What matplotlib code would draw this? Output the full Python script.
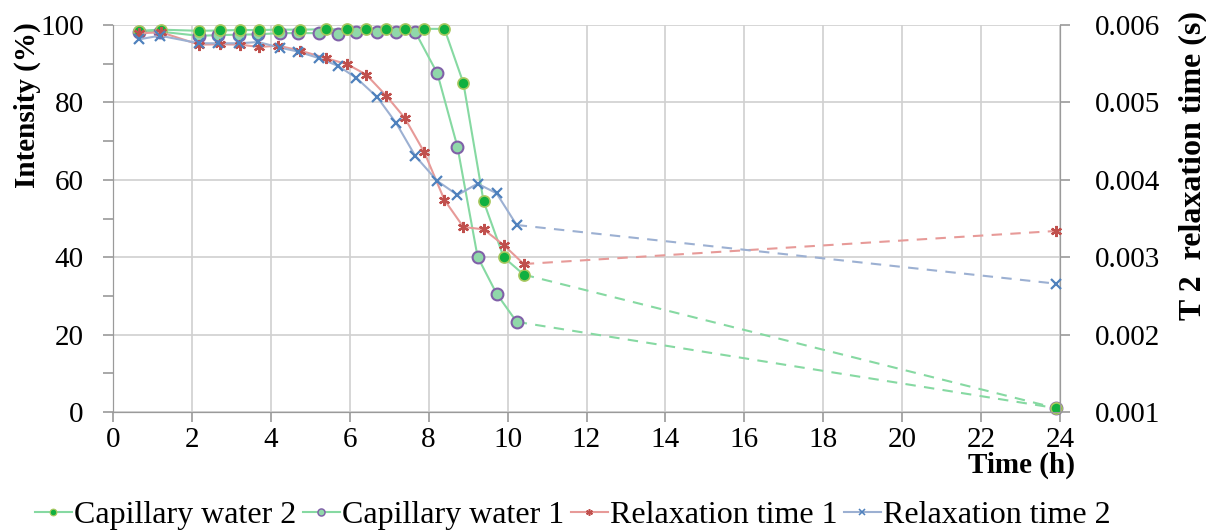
import matplotlib
matplotlib.use("Agg")
import matplotlib.pyplot as plt
from matplotlib.lines import Line2D
from matplotlib.ticker import MultipleLocator, FormatStrFormatter

plt.rcParams['font.family'] = ['Liberation Serif', 'DejaVu Serif']

# Times (h)
t_a = [0.66, 1.22, 2.18, 2.72, 3.22, 3.71, 4.19, 4.75, 5.41, 5.94, 6.42, 6.93,
       7.39, 7.89, 8.40, 8.88, 9.39, 9.90, 10.41, 23.9]
t_b = [0.66, 1.19, 2.18, 2.67, 3.20, 3.68, 4.24, 4.70, 5.23, 5.71, 6.17, 6.70,
       7.18, 7.66, 8.22, 8.73, 9.24, 9.72, 10.23, 23.9]

# Intensity (%)
cap_water_2 = [98.5, 98.8, 98.5, 98.6, 98.7, 98.7, 98.8, 98.8, 98.9, 98.9, 98.9, 99.0,
               99.0, 99.0, 99.0, 85.0, 54.5, 40.0, 35.5, 1.0]
cap_water_1 = [98.3, 98.3, 97.2, 97.4, 97.5, 97.6, 97.9, 97.9, 97.9, 97.8, 98.1, 98.1,
               98.1, 98.2, 87.5, 68.5, 40.1, 30.6, 23.3, 1.0]

# T2 relaxation time (s)
relax_1 = [0.005893, 0.005906, 0.005746, 0.005751, 0.005746, 0.005716, 0.005733, 0.005668,
           0.005570, 0.005492, 0.005358, 0.005083, 0.004802, 0.004355, 0.003739, 0.003390,
           0.003360, 0.003158, 0.002912, 0.003339]
relax_2 = [0.005815, 0.005862, 0.005764, 0.005764, 0.005764, 0.005780, 0.005707, 0.005655,
           0.005570, 0.005470, 0.005315, 0.005066, 0.004730, 0.004308, 0.003984, 0.003804,
           0.003950, 0.003826, 0.003416, 0.002658]

labels = ["Capillary water 2", "Capillary water 1", "Relaxation time 1", "Relaxation time 2"]

fig = plt.figure(figsize=(12.06, 5.32), dpi=100)
ax = fig.add_axes([113/1206, 1-412/532, (1060-113)/1206, (412-25)/532])
ax2 = ax.twinx()

green_line = '#86d9a2'
red_line = '#e79a98'
blue_line = '#9cb0d2'

styles = [
    dict(ax=ax, t=t_a, y=cap_water_2, lc=green_line, marker='o', ms=8, mfc='#10b040', mec='#a8c860', mew=1.2, z=4),
    dict(ax=ax, t=t_b, y=cap_water_1, lc=green_line, marker='o', ms=8.5, mfc='#90d8aa', mec='#8060a8', mew=1.5, z=3),
    dict(ax=ax2, t=t_a, y=relax_1, lc=red_line, marker=(6, 2, 0), ms=8, mfc='#c0504d', mec='#c0504d', mew=1.6, z=3),
    dict(ax=ax2, t=t_b, y=relax_2, lc=blue_line, marker='x', ms=7, mfc='#4f81bd', mec='#4f81bd', mew=1.6, z=3),
]

handles = []
for s in styles:
    a = s['ax']
    a.plot(s['t'][:-1], s['y'][:-1], color=s['lc'], lw=1.5, zorder=2)
    a.plot(s['t'][-2:], s['y'][-2:], color=s['lc'], lw=1.5, ls=(0, (5, 4)), zorder=2)
    a.plot(s['t'], s['y'], ls='none', marker=s['marker'], ms=s['ms'], mfc=s['mfc'],
           mec=s['mec'], mew=s['mew'], zorder=s['z'], clip_on=False)
    handles.append(Line2D([], [], color=s['lc'], lw=1.5, marker=s['marker'], ms=s['ms'] * 0.6,
                          mfc=s['mfc'], mec=s['mec'], mew=s['mew'] * 0.7))

ax.set_xlim(0, 24)
ax.set_ylim(0, 100)
ax2.set_ylim(0.001, 0.006)
ax.xaxis.set_major_locator(MultipleLocator(2))
ax.yaxis.set_major_locator(MultipleLocator(20))
ax.yaxis.set_minor_locator(MultipleLocator(10))
ax2.yaxis.set_major_locator(MultipleLocator(0.001))
ax2.yaxis.set_major_formatter(FormatStrFormatter('%.3f'))

ax.grid(True, which='major', color='#d0d0d0', lw=1.2)
ax.set_axisbelow(True)
for a in (ax, ax2):
    a.spines['top'].set_visible(False)
    a.spines['left'].set_color('#9a9a9a')
    a.spines['bottom'].set_color('#9a9a9a')
    a.spines['right'].set_color('#9a9a9a')
    a.tick_params(colors='#9a9a9a', labelcolor='black', labelsize=21, length=7, width=1.2)
ax.tick_params(axis='y', which='minor', colors='#9a9a9a', length=7, width=1.2)
ax.tick_params(axis='x', pad=4)
ax.tick_params(axis='y', pad=14)
ax2.tick_params(axis='y', pad=18)
ax2.patch.set_visible(False)

ax.set_ylabel('Intensity (%)', fontsize=21, fontweight='bold')
ax.yaxis.set_label_coords(-(113 - 41) / 947, (412 - 105) / 387)
ax2.set_ylabel('T 2  relaxation time (s)', fontsize=23, fontweight='bold')
ax2.yaxis.set_label_coords(1 + (1178 - 1060) / 947, (412 - 165) / 387)
fig.text(1075/1206, 1-465/532, 'Time (h)', fontsize=21, fontweight='bold', ha='right', va='center')

fig.legend(handles, labels, loc='center', bbox_to_anchor=(573/1206, 1-515/532), ncol=4,
           frameon=False, fontsize=23, handlelength=1.15, handletextpad=0.08,
           columnspacing=0.2, borderpad=0)

fig.savefig('out.png', dpi=100)
